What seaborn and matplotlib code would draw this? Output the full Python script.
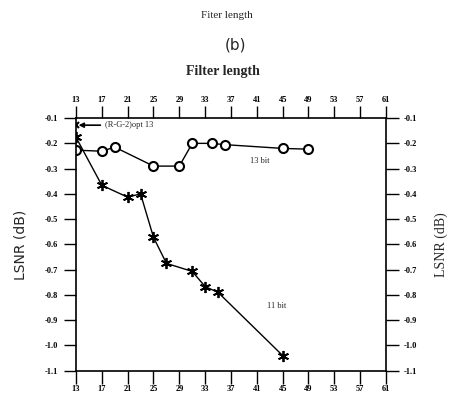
import matplotlib
matplotlib.use("Agg")
import matplotlib.pyplot as plt
import numpy as np
import seaborn as sns
import pandas as pd

sns.set_style("ticks")
plt.rcParams['font.family'] = ['Liberation Serif', 'DejaVu Serif']

len_13bit = [13, 17, 19, 25, 29, 31, 34, 36, 45, 49]
lsnr_13bit = [-0.227, -0.231, -0.215, -0.29, -0.29, -0.20, -0.20, -0.205, -0.22, -0.223]
len_11bit = [13, 17, 21, 23, 25, 27, 31, 33, 35, 45]
lsnr_11bit = [-0.176, -0.366, -0.413, -0.40, -0.572, -0.675, -0.707, -0.767, -0.79, -1.04]
opt_len, opt_lsnr = 13, -0.128
xticks = list(range(13, 62, 4))
yticks = [round(-0.1 * k, 1) for k in range(1, 12)]

df13 = pd.DataFrame({'len': len_13bit, 'lsnr': lsnr_13bit})
df11 = pd.DataFrame({'len': len_11bit, 'lsnr': lsnr_11bit})

fig = plt.figure(figsize=(4.54, 3.95), dpi=100)
ax = fig.add_axes([0.1674, 0.0615, 0.6828, 0.6395])

sns.lineplot(data=df13, x='len', y='lsnr', ax=ax, color='black', lw=1,
             marker='o', markersize=6.5, markerfacecolor='white',
             markeredgecolor='black', markeredgewidth=1.5)
sns.lineplot(data=df11, x='len', y='lsnr', ax=ax, color='black', lw=1,
             marker=(6, 2, 0), markersize=8, markeredgecolor='black',
             markeredgewidth=1.3)
ax.plot([opt_len], [opt_lsnr], marker='x', color='black', ms=5, mew=1.5)

ax.annotate("(R-G-2)opt 13", xy=(13.4, opt_lsnr), xytext=(17.5, opt_lsnr),
            fontsize=6, va='center', ha='left',
            arrowprops=dict(arrowstyle='-|>', color='black', lw=1.2,
                            shrinkA=1, shrinkB=0, mutation_scale=7))
ax.text(39.9, -0.27, "13 bit", fontsize=6, va='center', ha='left')
ax.text(42.6, -0.842, "11 bit", fontsize=6, va='center', ha='left')

ax.set_xlim(13, 61)
ax.set_ylim(-1.1, -0.1)
ax.set_xticks(xticks)
ax.set_xticklabels([str(t) for t in xticks])
ax.set_yticks(yticks)
ax.set_yticklabels([f"{t:.1f}" for t in yticks])
ax.tick_params(axis='both', which='both', direction='out', length=9, width=1,
               top=True, bottom=True, left=True, right=True,
               labeltop=True, labelbottom=True, labelleft=True, labelright=True,
               labelsize=6, colors='black')
ax.tick_params(axis='x', pad=1.5)
ax.tick_params(axis='y', pad=4)
for lab in ax.get_xticklabels() + ax.get_yticklabels():
    lab.set_fontweight('bold')
for s in ax.spines.values():
    s.set_color('black')
    s.set_linewidth(1.2)
ax.set_xlabel('')
ax.set_ylabel('')

fig.text(0.045, 0.38, "LSNR (dB)", rotation=90, ha='center', va='center',
         fontsize=10, family='DejaVu Sans')
fig.text(0.973, 0.38, "LSNR (dB)", rotation=90, ha='center', va='center',
         fontsize=10)
fig.text(0.5, 0.962, "Fiter length", ha='center', va='center', fontsize=8)
fig.text(0.518, 0.886, "(b)", ha='center', va='center', fontsize=11,
         family='DejaVu Sans')
fig.text(0.491, 0.82, "Filter length", ha='center', va='center', fontsize=10,
         fontweight='bold')

fig.savefig("out.png", dpi=100)
